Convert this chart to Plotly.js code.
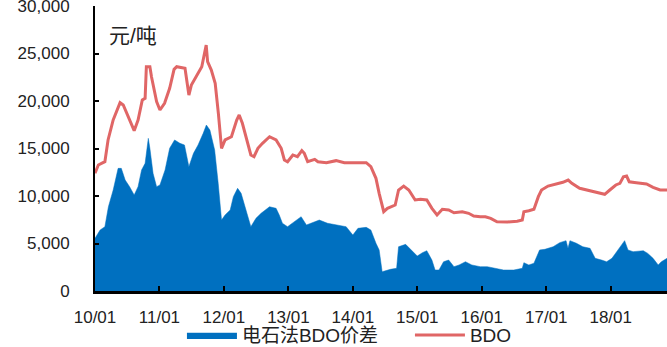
<!DOCTYPE html>
<html>
<head>
<meta charset="utf-8">
<script src="https://cdn.plot.ly/plotly-3.0.1.min.js"></script>
<style>html,body{margin:0;padding:0;background:#fff;}#chart{width:667px;height:347px;}</style>
</head>
<body>
<div id="chart"></div>
<script>
// 电石法BDO价差 (spread), 元/吨
const spreadDates = ['2010-01-01','2010-01-30','2010-02-26','2010-03-18','2010-04-14','2010-05-12','2010-05-30','2010-06-21','2010-07-16','2010-08-11','2010-09-02','2010-09-22','2010-10-12','2010-10-30','2010-11-08','2010-11-26','2010-12-16',
'2011-01-04','2011-02-02','2011-02-28','2011-03-28','2011-04-27','2011-05-23','2011-06-17','2011-07-13','2011-08-08','2011-09-06','2011-09-24','2011-10-14','2011-11-10','2011-11-30','2011-12-19',
'2012-01-08','2012-02-06','2012-02-24','2012-03-19','2012-04-08','2012-04-27','2012-05-15','2012-06-02','2012-07-01','2012-07-30','2012-09-16','2012-10-23','2012-11-10','2012-11-28','2012-12-27',
'2013-02-06','2013-03-14','2013-04-13','2013-05-08','2013-06-25','2013-08-11','2013-10-09','2013-11-24',
'2014-01-01','2014-01-30','2014-03-18','2014-04-13','2014-05-12','2014-05-30','2014-06-16','2014-07-16','2014-08-02','2014-09-06','2014-09-17','2014-10-27','2014-11-25',
'2015-01-01','2015-01-30','2015-02-24','2015-03-25','2015-04-12','2015-05-04','2015-05-30','2015-06-28','2015-07-28','2015-08-26','2015-10-01','2015-11-06','2015-12-24',
'2016-02-02','2016-03-10','2016-05-04','2016-07-01','2016-08-18','2016-08-27','2016-09-24','2016-10-23','2016-11-24','2016-12-24',
'2017-02-09','2017-03-18','2017-04-23','2017-05-04','2017-05-15','2017-06-21','2017-07-27','2017-09-06','2017-10-05','2017-11-10','2017-12-09',
'2018-01-08','2018-02-06','2018-03-03','2018-03-21','2018-04-09','2018-05-08','2018-07-05','2018-07-30','2018-08-29','2018-09-27','2018-10-15','2018-11-16'];
const spreadValues = [5550,6420,6770,8870,10630,12910,12910,11680,10980,10100,10980,12740,13440,16070,15020,12390,10980,
11160,12740,15020,15900,15550,15370,13090,14490,15370,16600,17470,16950,14840,11340,7470,
8000,8530,9930,10810,10280,9050,7650,6770,7650,8180,8870,8700,8000,7130,6770,
7290,7820,6950,7130,7470,7130,6950,6770,
5890,6600,6700,6420,5020,4320,2030,2210,2280,2390,4660,4910,4320,
3680,4030,4240,3260,2210,2210,3080,3260,2560,2740,3080,2740,2560,
2560,2390,2210,2210,2390,2980,2740,2920,4320,4390,
4660,5090,5300,4490,5300,5020,4660,4490,3440,3260,3080,
3440,4140,4840,5300,4320,4140,4240,3960,3440,2740,3080,3440];

// BDO price, 元/吨
const bdoDates = ['2010-01-01','2010-01-20','2010-02-26','2010-03-16','2010-04-14','2010-05-23','2010-06-10','2010-07-09','2010-08-11','2010-09-02','2010-09-26','2010-10-12','2010-10-19','2010-11-08','2010-11-17','2010-12-16',
'2011-01-04','2011-01-30','2011-02-28','2011-03-25','2011-04-09','2011-05-26','2011-06-17','2011-07-01','2011-07-30','2011-08-29','2011-09-23','2011-10-01','2011-10-22','2011-11-13','2011-12-01','2011-12-19',
'2012-01-08','2012-02-13','2012-03-14','2012-03-28','2012-04-15','2012-05-04','2012-06-02','2012-06-20','2012-07-12','2012-08-07','2012-09-16','2012-10-23','2012-11-21','2012-12-09','2012-12-27',
'2013-01-26','2013-02-21','2013-03-18','2013-04-01','2013-04-20','2013-05-30','2013-06-17','2013-08-04','2013-09-28','2013-11-14',
'2014-01-12','2014-03-18','2014-04-13','2014-05-12','2014-05-30','2014-06-25','2014-07-16','2014-08-29','2014-09-17','2014-10-16','2014-11-14','2014-12-20',
'2015-01-19','2015-02-24','2015-03-25','2015-04-23','2015-05-23','2015-06-28','2015-07-28','2015-09-13','2015-10-19','2015-11-17','2015-12-24',
'2016-01-22','2016-02-21','2016-03-28','2016-05-26','2016-07-20','2016-08-18','2016-08-27','2016-09-24','2016-10-23','2016-11-17','2016-12-05',
'2017-01-11','2017-02-28','2017-04-05','2017-05-05','2017-05-26','2017-07-09','2017-09-06','2017-10-23','2017-11-28','2017-12-27',
'2018-01-30','2018-02-22','2018-03-14','2018-04-01','2018-04-16','2018-05-26','2018-07-23','2018-08-29','2018-10-08','2018-11-16'];
const bdoValues = [12400,13260,13610,15900,18000,19820,19580,18350,16880,18000,20100,20280,23600,23600,22560,19930,
19050,19760,21340,23330,23610,23440,20630,21680,22560,23600,25890,24140,23260,21860,18700,15020,
15900,16240,18000,18530,17650,16240,14320,14140,15020,15550,16240,15900,15020,13790,13610,
14320,14140,14770,14490,13610,13860,13610,13510,13720,13510,
13510,13510,13090,11860,10280,8350,8700,9050,10630,11050,10630,9580,
9650,9580,8700,8000,8600,8530,8240,8350,8180,7890,7820,
7820,7650,7290,7260,7340,7470,8350,8450,8600,9930,10630,
11050,11260,11440,11680,11330,10810,10560,10350,10180,10630,
11160,11330,12030,12100,11500,11400,11260,10910,10630,10630];

const seriesNames = ['电石法BDO价差', 'BDO'];
const tickDates = ['2010-01-01','2011-01-01','2012-01-01','2013-01-01','2014-01-01','2015-01-01','2016-01-01','2017-01-01','2018-01-01'];
const tickLabels = ['10/01','11/01','12/01','13/01','14/01','15/01','16/01','17/01','18/01'];
const yTicks = [0,5000,10000,15000,20000,25000,30000];
const unitLabel = '元/吨';

const FONT = 'Liberation Sans, Arial, Noto Sans CJK SC, sans-serif';

const traces = [
  {
    x: spreadDates, y: spreadValues, name: seriesNames[0], type: 'scatter', mode: 'lines',
    fill: 'tozeroy', fillcolor: '#0070C0', line: {color: '#0070C0', width: 0.5}
  },
  {
    x: bdoDates, y: bdoValues, name: seriesNames[1], type: 'scatter', mode: 'lines',
    line: {color: '#E06666', width: 3}
  }
];

const layout = {
  width: 667, height: 347,
  margin: {l: 95, r: 0, t: 6, b: 56, autoexpand: false},
  paper_bgcolor: '#ffffff', plot_bgcolor: '#ffffff',
  font: {family: FONT, size: 17, color: '#222'},
  showlegend: true,
  legend: {
    orientation: 'h', x: 0.152, xanchor: 'left', y: -0.155, yanchor: 'middle',
    font: {family: FONT, size: 19, color: '#222'}, itemwidth: 50, tracegroupgap: 0,
    entrywidth: 163, entrywidthmode: 'pixels',
    bgcolor: 'rgba(0,0,0,0)'
  },
  xaxis: {
    type: 'date', range: ['2010-01-01', '2018-11-16'],
    tickmode: 'array', tickvals: tickDates, ticktext: tickLabels,
    showline: true, linecolor: '#000', linewidth: 2.5,
    ticks: 'inside', ticklen: 5, tickwidth: 2, tickcolor: '#000',
    showgrid: false, zeroline: false, ticklabelstandoff: 9, ticklabeloverflow: 'allow',
    tickfont: {family: FONT, size: 17, color: '#222'}
  },
  yaxis: {
    range: [0, 30000], tickmode: 'array', tickvals: yTicks, tickformat: ',d',
    showline: true, linecolor: '#000', linewidth: 2,
    ticks: 'inside', ticklen: 4, tickwidth: 2, tickcolor: '#000',
    showgrid: false, zeroline: false, ticklabelstandoff: 20, ticklabeloverflow: 'allow',
    tickfont: {family: FONT, size: 17, color: '#222'}
  },
  annotations: [{
    text: unitLabel, xref: 'paper', yref: 'paper', x: 0.021, y: 0.898, xanchor: 'left', yanchor: 'middle',
    showarrow: false, font: {family: FONT, size: 21, color: '#222'}
  }]
};

Plotly.newPlot('chart', traces, layout, {staticPlot: true, displayModeBar: false});
</script>
</body>
</html>
